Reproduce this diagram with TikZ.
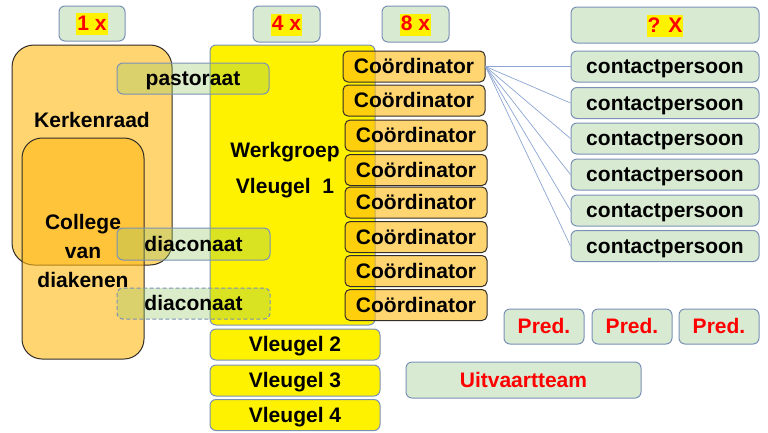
\documentclass[tikz,border=0pt]{standalone}
\usepackage{fontspec}
\setmainfont{Liberation Sans}
\definecolor{gfill}{RGB}{150,200,100}
\definecolor{gsolid}{RGB}{217,234,211}
\definecolor{bordblue}{RGB}{122,145,182}
\definecolor{ofill}{RGB}{255,185,20}
\definecolor{odraw}{RGB}{50,45,40}
\definecolor{linkblue}{RGB}{140,165,210}
\definecolor{redtxt}{RGB}{255,0,0}
\tikzset{
  txtfont/.style={font=\fontsize{21}{25}\selectfont\bfseries},
  txt/.style={txtfont, text height=14pt, text depth=0pt},
  greenbox/.style={txt, draw=bordblue, line width=1pt, fill=gsolid, rounded corners=6pt, inner sep=0pt},
  glassbox/.style={txt, draw=bordblue, line width=1pt, fill=gfill, fill opacity=0.35, text opacity=1, rounded corners=6pt, inner sep=0pt},
  orangebig/.style={draw=odraw, line width=1pt, fill=ofill, fill opacity=0.6, inner sep=0pt},
  coordbox/.style={txt, draw=odraw, line width=1pt, fill=ofill, fill opacity=0.6, text opacity=1, rounded corners=5pt, inner sep=0pt, minimum width=142pt, minimum height=31pt},
  contactbox/.style={greenbox, minimum width=188pt, minimum height=31pt},
  yellowbox/.style={txt, draw=bordblue, line width=1pt, fill=yellow, rounded corners=6pt, inner sep=0pt},
  countlabel/.style={txtfont, text=redtxt, fill=yellow, inner xsep=1pt, text height=16pt, text depth=4pt, inner ysep=1pt},
  link/.style={draw=linkblue, line width=0.7pt}
}
\begin{document}
\begin{tikzpicture}[x=1pt,y=-1pt]
\useasboundingbox (0,0) rectangle (768,432);
% count boxes
\node[greenbox, minimum width=66pt, minimum height=35pt] (n1) at (92,23.5) {};
\node[countlabel] (n1t) at (92,24) {1 x};
\node[greenbox, minimum width=67pt, minimum height=36pt] (n4) at (286.5,24) {};
\node[countlabel] (n4t) at (286.5,24.5) {4 x};
\node[greenbox, minimum width=67pt, minimum height=36pt] (n8) at (415.5,24) {};
\node[countlabel] (n8t) at (415.5,24.5) {8 x};
\node[greenbox, minimum width=188pt, minimum height=36pt] (nq) at (665,25) {};
\node[countlabel] (nqt) at (665,26) {? X};
% Kerkenraad and College
\node[orangebig, rounded corners=22pt, minimum width=160pt, minimum height=220pt] (kr) at (92,155) {};
\node[txt] (krt) at (92,120) {Kerkenraad};
\node[orangebig, rounded corners=20pt, minimum width=122pt, minimum height=221pt] (cd) at (83,248.5) {};
\node[txtfont, align=center, font=\fontsize{21}{29}\selectfont\bfseries] (cdt) at (83,251) {College\\van\\diakenen};
% Werkgroep
\node[yellowbox, minimum width=165pt, minimum height=280pt] (wg) at (292.5,185) {};
\node[txtfont, align=center, font=\fontsize{21}{36}\selectfont\bfseries] (wgt) at (285,170) {Werkgroep\\Vleugel\ \ 1};
\node[yellowbox, minimum width=170pt, minimum height=31pt] (v2) at (295,344.5) {Vleugel 2};
\node[yellowbox, minimum width=170pt, minimum height=31pt] (v3) at (295,380.5) {Vleugel 3};
\node[yellowbox, minimum width=170pt, minimum height=31pt] (v4) at (295,415) {Vleugel 4};
% green overlays
\node[glassbox, minimum width=152pt, minimum height=31pt] (pa) at (193,78.5) {pastoraat};
\node[glassbox, minimum width=153pt, minimum height=32pt] (d1) at (193.5,244) {diaconaat};
\node[glassbox, dashed, dash pattern=on 4pt off 2.5pt, minimum width=153pt, minimum height=31pt] (d2) at (193.5,303.5) {diaconaat};
% coordinators
\node[coordbox] (c1) at (414,66.5) {Coördinator};
\node[coordbox] (c2) at (414,100.5) {Coördinator};
\node[coordbox] (c3) at (416,135.5) {Coördinator};
\node[coordbox] (c4) at (416,170) {Coördinator};
\node[coordbox] (c5) at (416,202.5) {Coördinator};
\node[coordbox] (c6) at (416,237) {Coördinator};
\node[coordbox] (c7) at (416,271) {Coördinator};
\node[coordbox] (c8) at (416,305) {Coördinator};
% contacts
\node[contactbox] (p1) at (665,66.5) {contactpersoon};
\node[contactbox] (p2) at (665,103) {contactpersoon};
\node[contactbox] (p3) at (665,138.5) {contactpersoon};
\node[contactbox] (p4) at (665,174.5) {contactpersoon};
\node[contactbox] (p5) at (665,210.5) {contactpersoon};
\node[contactbox] (p6) at (665,246) {contactpersoon};
\foreach \p in {p1,p2,p3,p4,p5,p6}{\draw[link] (c1.east) -- (\p.west);}
% Pred and Uitvaartteam
\node[greenbox, text=redtxt, minimum width=80pt, minimum height=35pt] (pr1) at (544,326.5) {Pred.};
\node[greenbox, text=redtxt, minimum width=80pt, minimum height=35pt] (pr2) at (632,326.5) {Pred.};
\node[greenbox, text=redtxt, minimum width=80pt, minimum height=35pt] (pr3) at (719,326.5) {Pred.};
\node[greenbox, text=redtxt, minimum width=235pt, minimum height=36pt] (ut) at (523.5,380) {Uitvaartteam};
\end{tikzpicture}
\end{document}
